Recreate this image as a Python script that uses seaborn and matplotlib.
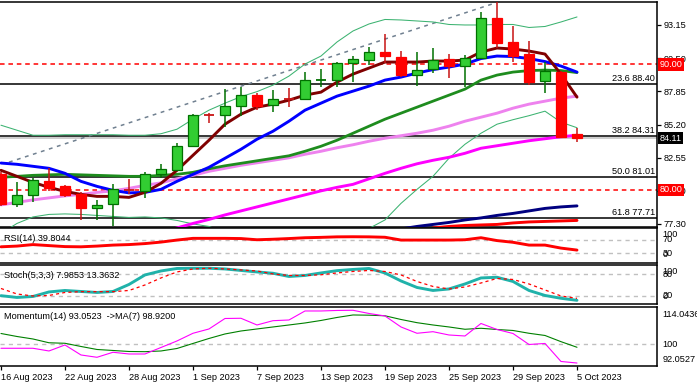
import numpy as np
import pandas as pd
import matplotlib
matplotlib.use("Agg")
import matplotlib.pyplot as plt
import matplotlib.transforms as mtransforms
import seaborn as sns

# ---------------- data ----------------
date_labels = ["16 Aug 2023", "22 Aug 2023", "28 Aug 2023", "1 Sep 2023", "7 Sep 2023",
               "13 Sep 2023", "19 Sep 2023", "25 Sep 2023", "29 Sep 2023", "5 Oct 2023"]
date_idx = [0, 4, 8, 12, 16, 20, 24, 28, 32, 36]

opens = [81.25, 78.90, 79.60, 80.67, 80.27, 79.63, 78.57, 78.85, 80.02, 79.93,
         81.25, 81.60, 83.50, 86.00, 85.93, 86.65, 87.55, 86.73, 87.28, 87.21,
         88.74, 88.73, 90.09, 90.33, 90.97, 90.57, 89.17, 89.61, 90.41, 89.85,
         90.49, 93.69, 91.77, 90.81, 88.65, 89.41, 84.41]
highs = [81.45, 80.59, 80.97, 81.71, 80.35, 79.81, 79.21, 80.43, 80.83, 81.41,
         82.03, 83.71, 86.03, 86.11, 88.03, 88.17, 87.69, 87.95, 88.13, 89.41,
         89.63, 90.21, 90.69, 91.41, 92.43, 91.07, 90.99, 91.29, 90.83, 90.75,
         94.17, 95.01, 93.07, 91.87, 90.21, 89.47, 84.93]
lows = [78.70, 78.59, 79.00, 79.90, 79.40, 77.55, 77.55, 77.13, 79.63, 79.33,
        80.91, 81.49, 83.41, 85.29, 84.97, 85.89, 86.35, 86.17, 86.61, 87.15,
        88.21, 88.21, 88.61, 89.95, 90.09, 88.97, 88.29, 89.29, 88.93, 88.17,
        90.41, 91.29, 90.21, 88.35, 87.69, 84.13, 83.81]
closes = [78.88, 79.55, 80.75, 80.13, 79.60, 78.53, 78.81, 80.03, 79.96, 81.29,
          81.68, 83.53, 86.00, 85.94, 86.67, 87.55, 86.69, 87.21, 87.24, 88.75,
          88.79, 90.09, 90.41, 90.97, 90.69, 89.17, 89.55, 90.33, 89.85, 90.49,
          93.69, 91.73, 90.69, 88.61, 89.49, 84.21, 84.11]

ma_maroon = [81.55, 81.07, 80.59, 80.19, 79.87, 79.63, 79.47, 79.47, 79.39, 79.79,
             80.51, 81.55, 82.75, 83.95, 85.23, 86.03, 86.59, 86.83, 87.15, 87.55,
             87.79, 88.59, 89.23, 89.71, 90.19, 90.19, 90.19, 90.27, 90.27, 90.35,
             90.99, 91.31, 91.23, 91.07, 90.83, 89.23, 87.39]
ma_blue = [82.13, 82.03, 81.87, 81.71, 81.31, 80.67, 80.27, 79.95, 79.75, 79.79,
           80.03, 80.67, 81.23, 81.79, 82.51, 83.23, 84.03, 84.67, 85.47, 86.35,
           86.91, 87.47, 87.87, 88.27, 88.75, 88.99, 89.31, 89.59, 89.79, 90.03,
           90.47, 90.67, 90.63, 90.47, 90.23, 89.87, 89.39]
ma_green = [80.99, 81.07, 81.15, 81.19, 81.23, 81.19, 81.15, 81.11, 81.07, 81.07,
            81.15, 81.23, 81.39, 81.67, 81.91, 82.11, 82.31, 82.51, 82.71, 83.07,
            83.47, 83.95, 84.51, 85.07, 85.63, 86.11, 86.59, 87.07, 87.55, 88.03,
            88.75, 89.15, 89.39, 89.51, 89.55, 89.51, 89.35]
ma_violet = [78.79, 78.99, 79.19, 79.35, 79.51, 79.63, 79.79, 79.91, 80.11, 80.35,
             80.55, 80.87, 81.15, 81.47, 81.71, 81.95, 82.15, 82.35, 82.55, 82.83,
             83.07, 83.35, 83.59, 83.87, 84.11, 84.31, 84.51, 84.75, 85.07, 85.47,
             85.79, 86.11, 86.51, 86.83, 87.07, 87.31, 87.47]
ma_magenta = [None] * 10 + [76.59, 76.95, 77.31, 77.63, 77.99, 78.31, 78.63, 78.95, 79.27, 79.59,
                            79.91, 80.19, 80.43, 80.87, 81.31, 81.71, 82.07, 82.35, 82.59, 82.91,
                            83.31, 83.51, 83.71, 83.91, 84.07, 84.23, 84.35]
ma_navy = [None] * 25 + [76.87, 77.07, 77.23, 77.39, 77.59, 77.75, 77.95, 78.11, 78.31, 78.51,
                         78.63, 78.71]
ma_red = [None] * 27 + [76.95, 77.07, 77.15, 77.19, 77.23, 77.35, 77.43, 77.47, 77.51, 77.55]
bb_upper = [85.15, 84.75, 84.35, 84.35, 84.39, 84.39, 84.39, 84.39, 84.35, 84.35,
            84.47, 84.83, 85.63, 86.35, 86.91, 87.43, 87.83, 88.35, 89.07, 90.03,
            90.67, 91.79, 92.67, 93.23, 93.59, 93.55, 93.47, 93.39, 93.19, 93.15,
            93.15, 93.19, 93.19, 92.95, 93.03, 93.39, 93.79]
bb_lower = [76.51, 77.31, 77.83, 78.03, 78.07, 78.03, 77.95, 77.87, 77.79, 77.83,
            77.75, 77.55, 77.27, 77.07, 76.59, 76.80, 76.80, 76.70, 76.40, 76.10,
            76.30, 76.10, 76.35, 76.91, 77.59, 78.91, 80.03, 81.07, 82.51, 83.63,
            84.51, 85.23, 85.59, 85.91, 86.27, 85.39, 84.95]
trend_x = [0.5, 31.0]
trend_p = [82.20, 94.95]
fib_levels = [88.40, 84.31, 81.01, 77.71]
fib_names = ["23.6 88.40", "38.2 84.31", "50.0 81.01", "61.8 77.71"]
round_levels = [90.00, 80.00]
last_price = 84.11
price_ticks = [93.15, 90.50, 87.85, 85.20, 82.55, 79.90, 77.30]

rsi = [49.4, 51.5, 55.9, 52.9, 50.0, 49.4, 51.5, 54.4, 55.9, 58.8,
       63.2, 69.1, 74.1, 74.1, 74.1, 73.5, 70.0, 71.5, 73.5, 75.9,
       77.0, 78.5, 78.8, 78.5, 77.3, 69.1, 69.1, 69.1, 69.1, 70.0,
       75.9, 67.6, 62.6, 54.4, 54.4, 45.6, 39.8044]
stoch_k = [20.8, 15.9, 18.6, 31.1, 35.2, 32.4, 29.7, 32.4, 51.8, 78.1,
           89.1, 96.0, 96.6, 96.6, 94.7, 90.5, 86.4, 82.8, 73.9, 76.7,
           83.6, 90.0, 93.3, 96.0, 83.6, 61.5, 43.5, 35.2, 39.4, 53.2,
           69.8, 71.7, 60.1, 35.2, 21.4, 13.6, 7.9853]
stoch_d = [40.7, 25.5, 20.0, 21.4, 29.7, 31.9, 31.9, 31.9, 35.2, 50.4,
           69.8, 86.4, 94.7, 96.6, 94.7, 91.9, 89.1, 80.8, 76.7, 76.7,
           78.6, 83.6, 87.7, 90.5, 87.7, 78.1, 60.1, 46.3, 39.4, 44.9,
           55.9, 68.4, 65.6, 53.2, 36.6, 20.0, 13.3632]
momentum = [98.55, 98.55, 98.55, 97.54, 99.78, 96.05, 95.19, 97.06, 96.42, 96.42,
            98.84, 101.27, 104.14, 105.74, 109.65, 109.73, 107.23, 108.83, 109.09, 112.45,
            112.45, 112.64, 112.71, 111.52, 110.59, 106.49, 104.14, 104.73, 103.50, 103.13,
            107.79, 105.55, 104.06, 99.96, 100.34, 93.63, 93.0523]
momentum_ma = [104.06, 102.94, 102.01, 100.60, 100.41, 99.22, 98.10, 97.73, 97.35, 97.28,
               97.54, 98.47, 100.34, 102.20, 103.88, 104.99, 105.74, 106.49, 107.23, 107.98,
               108.91, 110.03, 110.96, 110.88, 110.66, 109.28, 108.09, 107.23, 106.49, 105.63,
               106.00, 105.55, 105.18, 104.14, 103.32, 101.01, 98.92]
mom_range = [92.0527, 114.0436]

# ---------------- style ----------------
sns.set_theme(style="white")
plt.rcParams["font.family"] = ["Liberation Sans", "DejaVu Sans"]
FS = 6.6

W, H = 697, 387
fig = plt.figure(figsize=(W / 100, H / 100), dpi=100)
fig.patch.set_facecolor("white")


def add_ax(x0, y0, x1, y1):
    a = fig.add_axes([x0 / W, 1 - y1 / H, (x1 - x0) / W, (y1 - y0) / H])
    a.set_facecolor("white")
    for s in ["top", "bottom", "right"]:
        a.spines[s].set_visible(True)
        a.spines[s].set_color("black")
        a.spines[s].set_linewidth(1.1)
    a.spines["left"].set_visible(False)
    a.set_xlim(-0.06, 41.0)
    a.set_xticks([])
    a.grid(False)
    return a


ax = add_ax(0, 2.3, 657, 226.7)
ax_rsi = add_ax(0, 228.3, 657, 262.5)
ax_st = add_ax(0, 265, 657, 304)
ax_mo = add_ax(0, 306.7, 657, 365.7)

idx = np.arange(len(closes))


def line(a, vals, color, lw, ls="-", z=4):
    s = pd.Series(vals, dtype="float")
    df = pd.DataFrame({"i": idx, "v": s}).dropna()
    sns.lineplot(data=df, x="i", y="v", ax=a, color=color, linewidth=lw,
                 linestyle=ls, legend=False, zorder=z)
    a.set_xlabel("")
    a.set_ylabel("")


# ---------------- main panel ----------------
ax.set_ylim(77.05, 94.96)
for lv in fib_levels:
    ax.axhline(lv, color="black", lw=1.1, zorder=1)
for lv in round_levels:
    ax.axhline(lv, color="red", lw=1.1, ls=(0, (3, 2.5)), zorder=1)
ax.axhline(last_price, color="#C0C0C0", lw=1.1, zorder=1)

sns.lineplot(x=trend_x, y=trend_p, ax=ax, color="#708090", linewidth=1.1,
             linestyle=(0, (2.5, 3)), legend=False, zorder=1.5)

line(ax, bb_upper, "#3CB371", 0.75)
line(ax, bb_lower, "#3CB371", 0.75)
line(ax, ma_red, "#FF0000", 2.1)
line(ax, ma_navy, "#000080", 2.1)
line(ax, ma_magenta, "#FF00FF", 2.1)
line(ax, ma_violet, "#EE82EE", 2.1)
line(ax, ma_green, "#1E8C1E", 2.0)
line(ax, ma_blue, "#0000FF", 2.1)
line(ax, ma_maroon, "#800000", 2.1)

# candles (drawn in the foreground, as in the reference)
bw = 0.66
for i in idx:
    o, h, l, c = opens[i], highs[i], lows[i], closes[i]
    bull = c >= o
    wick_col = "#007000" if bull else "#C81414"
    ax.vlines(i, l, h, color=wick_col, lw=1.1, zorder=5)
    if abs(c - o) < 0.1:
        ax.hlines((o + c) / 2, i - bw / 2, i + bw / 2, color=wick_col, lw=1.3, zorder=5.1)
    else:
        ax.bar(i, abs(c - o), bottom=min(o, c), width=bw,
               color="#32CD32" if bull else "#FF0000",
               edgecolor="#007000" if bull else "#FF0000", linewidth=0.9, zorder=5.1)

ax.set_ylim(77.05, 94.96)
ax.set_xlim(-0.06, 41.0)

ax.yaxis.tick_right()
ax.set_yticks(price_ticks)
ax.set_yticklabels([f"{v:.2f}" for v in price_ticks])
ax.tick_params(axis="y", length=3, width=0.9, pad=2, labelsize=FS, colors="black",
               right=True, left=False)

blend = mtransforms.blended_transform_factory(ax.transAxes, ax.transData)
for lv, nm in zip(fib_levels, fib_names):
    ax.text(0.997, lv + 0.08, nm, transform=blend, ha="right", va="bottom",
            fontsize=FS, color="black", zorder=6)
for lv in round_levels:
    ax.text(1.004, lv, f"{lv:.2f}", transform=blend, ha="left", va="center",
            fontsize=FS, color="white", clip_on=False, zorder=10,
            bbox=dict(facecolor="red", edgecolor="none", pad=1.2))
ax.text(1.004, last_price, f"{last_price:.2f}", transform=blend, ha="left", va="center",
        fontsize=FS, color="white", clip_on=False, zorder=10,
        bbox=dict(facecolor="black", edgecolor="none", pad=1.2))

# ---------------- RSI ----------------
ax_rsi.set_ylim(3.5, 103.5)
for lv in [70, 30]:
    ax_rsi.axhline(lv, color="#C0C0C0", lw=1.0, ls=(0, (3, 3)), zorder=1)
line(ax_rsi, rsi, "#FF0000", 2.1)
ax_rsi.set_ylim(3.5, 103.5)
ax_rsi.set_yticks([])
ax_rsi.text(0.006, 0.71, f"RSI(14) {rsi[-1]:.4f}", transform=ax_rsi.transAxes,
            ha="left", va="center", fontsize=FS, color="black", zorder=6)
b_r = mtransforms.blended_transform_factory(ax_rsi.transAxes, ax_rsi.transData)
for v, t in [(86, "100"), (70, "70"), (31, "30"), (28, "0")]:
    ax_rsi.text(1.008, v, t, transform=b_r, ha="left", va="center", fontsize=FS,
                color="black", clip_on=False)

# ---------------- Stochastic ----------------
ax_st.set_ylim(-2.2, 105.6)
for lv in [80, 20]:
    ax_st.axhline(lv, color="#C0C0C0", lw=1.0, ls=(0, (3, 3)), zorder=1)
line(ax_st, stoch_k, "#20B2AA", 2.1)
line(ax_st, stoch_d, "#FF0000", 0.9, ls=(0, (2.5, 2.5)))
ax_st.set_ylim(-2.2, 105.6)
ax_st.set_yticks([])
ax_st.text(0.006, 0.74, f"Stoch(5,3,3) {stoch_k[-1]:.4f} {stoch_d[-1]:.4f}",
           transform=ax_st.transAxes, ha="left", va="center", fontsize=FS, color="black", zorder=6)
b_s = mtransforms.blended_transform_factory(ax_st.transAxes, ax_st.transData)
for v, t in [(88, "100"), (80, "80"), (21, "20"), (19, "0")]:
    ax_st.text(1.008, v, t, transform=b_s, ha="left", va="center", fontsize=FS,
               color="black", clip_on=False)

# ---------------- Momentum ----------------
ax_mo.set_ylim(*mom_range)
ax_mo.axhline(100, color="#C0C0C0", lw=1.0, ls=(0, (3, 3)), zorder=1)
line(ax_mo, momentum_ma, "#008000", 0.8)
line(ax_mo, momentum, "#FF00FF", 0.8)
ax_mo.set_ylim(*mom_range)
ax_mo.set_yticks([])
ax_mo.text(0.006, 0.84, f"Momentum(14) {momentum[-1]:.4f}  ->MA(7) {momentum_ma[-1]:.4f}",
           transform=ax_mo.transAxes, ha="left", va="center", fontsize=FS, color="black", zorder=6)
b_m = mtransforms.blended_transform_factory(ax_mo.transAxes, ax_mo.transData)
for v, t in [(111.3, f"{mom_range[1]:.4f}"), (100, "100"), (94.2, f"{mom_range[0]:.4f}")]:
    ax_mo.text(1.008, v, t, transform=b_m, ha="left", va="center", fontsize=FS,
               color="black", clip_on=False)

ax_mo.set_xlim(-0.06, 41.0)
ax_mo.set_xticks(date_idx)
ax_mo.set_xticklabels(date_labels, ha="left")
ax_mo.tick_params(axis="x", length=3, width=0.9, pad=2, labelsize=FS, colors="black",
                  bottom=True, direction="out")

fig.savefig("out.png", dpi=100, facecolor="white")
